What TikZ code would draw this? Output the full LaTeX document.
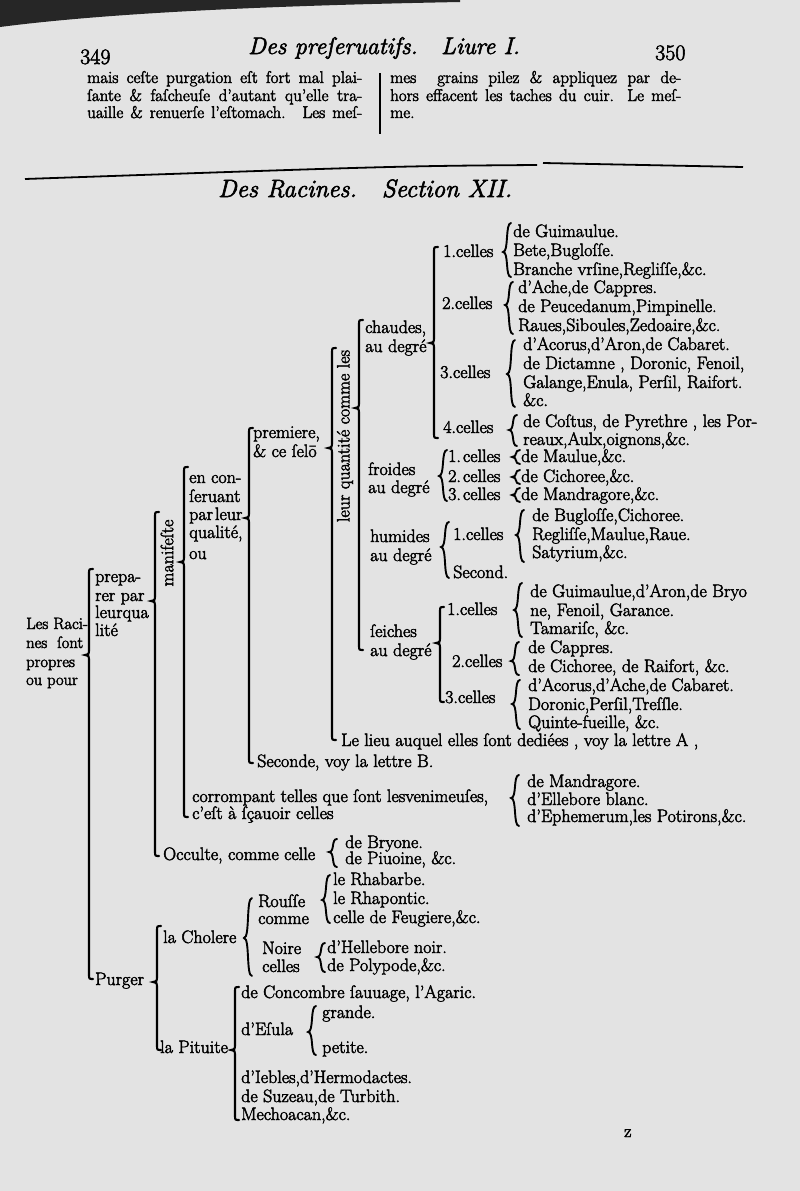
\documentclass[tikz,border=0pt]{standalone}
\usepackage{fontspec}
\setmainfont{Latin Modern Roman}[FakeBold=2.5]
\begin{document}
\begin{tikzpicture}[x=1pt,y=-1pt,
  t/.style={anchor=base west, inner sep=0pt, font=\fontsize{18}{20}\selectfont},
  ts/.style={anchor=base west, inner sep=0pt, font=\fontsize{16.5}{19}\selectfont},
  tc/.style={anchor=base west, inner sep=0pt, font=\fontsize{17}{19}\selectfont},
  hd/.style={anchor=base west, inner sep=0pt, font=\fontsize{22}{24}\selectfont},
  hdi/.style={anchor=base west, inner sep=0pt, font=\fontsize{24}{26}\selectfont\itshape},
  br/.style={line width=2.1pt, line cap=round},
  cb/.style={line width=1.9pt, line cap=round},
  rule/.style={line width=1.8pt}]
% straight bracket with hooked ends: x, top, tip, bottom
\newcommand\brc[4]{\draw[br] ({#1+4},{#2}) .. controls ({#1},{#2}) .. ({#1},{#2+5}) -- ({#1},{#3-4}) .. controls ({#1},{#3-1}) .. ({#1-4},{#3}) .. controls ({#1},{#3+1}) .. ({#1},{#3+4}) -- ({#1},{#4-5}) .. controls ({#1},{#4}) .. ({#1+4},{#4});}
% curly brace: x, top, tip, bottom
\newcommand\cbr[4]{\draw[cb] ({#1+4},{#2}) .. controls ({#1-2},{#2}) and ({#1+2},{#3}) .. ({#1-4},{#3}) .. controls ({#1+2},{#3}) and ({#1-2},{#4}) .. ({#1+4},{#4});}
% page
\fill[black!11] (0,0) rectangle (800,1191);
\useasboundingbox (0,0) rectangle (800,1191);
\fill[black!85] (0,0) -- (0,27) .. controls (100,14) and (250,6) .. (460,2) -- (460,0) -- cycle;
% header
\node[hd] (p349) at (80,64) {349};
\node[hdi] (title) at (248,54) {Des preſeruatifs.};
\node[hdi] (liure) at (441,54) {Liure I.};
\node[hd] (p350) at (655,60) {350};
\node[tc] (l1) at (87,83) {\makebox[275pt][s]{mais ceſte purgation eſt fort mal plai-}};
\node[tc] (l2) at (87,101) {\makebox[275pt][s]{ſante \& faſcheuſe d'autant qu'elle tra-}};
\node[tc] (l3) at (87,118) {\makebox[275pt][s]{uaille \& renuerſe l'eſtomach.\quad Les meſ-}};
\node[tc] (r1) at (390,83) {\makebox[291pt][s]{mes\ \ grains pilez \& appliquez par de-}};
\node[tc] (r2) at (390,101) {\makebox[291pt][s]{hors effacent les taches du cuir. Le meſ-}};
\node[tc] (r3) at (390,118) {me.};
\coordinate (dv1) at (380,73); \coordinate (dv2) at (380,134);
\draw[line width=1.1pt] (dv1) -- (dv2);
\coordinate (ra) at (25,179); \coordinate (rm) at (400,166); \coordinate (rb) at (537,165);
\coordinate (rc) at (543,163); \coordinate (rd) at (743,167);
\draw[rule] (ra) .. controls (rm) .. (rb); \draw[rule] (rc) -- (rd);
\node[hdi, font=\fontsize{25}{27}\selectfont\itshape] (sect) at (218,197) {Des Racines.\quad Section XII.};
% chaudes
\node[t] (c1) at (443,257) {1.celles};
\cbr{507}{223}{252}{277}
\node[t] (c1a) at (513,237) {de Guimaulue.};
\node[t] (c1b) at (513,256) {Bete,Bugloſſe.};
\node[t] (c1c) at (513,275) {Branche vrſine,Regliſſe,\&c.};
\node[t] (c2) at (442,309) {2.celles};
\cbr{509}{282}{305}{334}
\node[t] (c2a) at (518,293) {d'Ache,de Cappres.};
\node[t] (c2b) at (518,312) {de Peucedanum,Pimpinelle.};
\node[t] (c2c) at (518,331) {Raues,Siboules,Zedoaire,\&c.};
\node[t] (c3) at (440,378) {3.celles};
\cbr{511}{340}{374}{407}
\node[t] (c3a) at (523,350) {d'Acorus,d'Aron,de Cabaret.};
\node[t] (c3b) at (523,369) {de Dictamne , Doronic, Fenoil,};
\node[t] (c3c) at (523,388) {Galange,Enula, Perſil, Raifort.};
\node[t] (c3d) at (523,406) {\&c.};
\node[t] (c4) at (443,433) {4.celles};
\cbr{513}{415}{430}{446}
\node[t] (c4a) at (523,427) {de Coſtus, de Pyrethre , les Por-};
\node[t] (c4b) at (523,445) {reaux,Aulx,oignons,\&c.};
\node[t] (ch1) at (365,333) {chaudes,};
\node[t] (ch2) at (365,352) {au degré};
\brc{434}{247}{343}{438}
% froides
\node[t] (fr1) at (368,475) {froides};
\node[t] (fr2) at (368,493) {au degré};
\cbr{443}{450}{476}{501}
\node[t] (f1) at (448,462) {1.\kern2pt celles};
\node[t] (f2) at (448,482) {2.\kern2pt celles};
\node[t] (f3) at (448,500) {3.\kern2pt celles};
\cbr{516}{450}{457}{464}
\cbr{516}{470}{477}{484}
\cbr{516}{488}{495}{502}
\node[t] (f1a) at (521,462) {de Maulue,\&c.};
\node[t] (f2a) at (521,482) {de Cichoree,\&c.};
\node[t] (f3a) at (521,500) {de Mandragore,\&c.};
% humides
\node[t] (hu1) at (370,542) {humides};
\node[t] (hu2) at (370,561) {au degré};
\cbr{445}{522}{547}{578}
\node[t] (h1) at (453,540) {1.celles};
\node[t] (h2) at (453,578) {Second.};
\cbr{520}{510}{535}{562}
\node[t] (h1a) at (532,521) {de Bugloſſe,Cichoree.};
\node[t] (h1b) at (532,540) {Regliſſe,Maulue,Raue.};
\node[t] (h1c) at (532,558) {Satyrium,\&c.};
% seiches
\node[t] (se1) at (370,637) {ſeiches};
\node[t] (se2) at (370,656) {au degré};
\brc{440}{607}{643}{702}
\node[t] (s1) at (447,615) {1.celles};
\cbr{518}{583}{610}{637}
\node[t] (s1a) at (530,597) {de Guimaulue,d'Aron,de Bryo};
\node[t] (s1b) at (530,616) {ne, Fenoil, Garance.};
\node[t] (s1c) at (530,634) {Tamariſc, \&c.};
\node[t] (s2) at (452,667) {2.celles};
\cbr{515}{642}{661}{675}
\node[t] (s2a) at (528,653) {de Cappres.};
\node[t] (s2b) at (528,672) {de Cichoree, de Raifort, \&c.};
\node[t] (s3) at (445,703) {3.celles};
\cbr{516}{680}{704}{729}
\node[t] (s3a) at (528,691) {d'Acorus,d'Ache,de Cabaret.};
\node[t] (s3b) at (528,710) {Doronic,Perſil,Treſſle.};
\node[t] (s3c) at (528,728) {Quinte-fueille, \&c.};
% qualites
\brc{359}{320}{408}{650}
\node[t, anchor=center, rotate=90] (quant) at (345,436) {leur quantité comme les};
\brc{332}{348}{448}{740}
\node[t] (prem1) at (253,438) {premiere,};
\node[t] (prem2) at (253,457) {\& ce ſelō};
\node[t] (lieu) at (341,746) {Le lieu auquel elles ſont dediées , voy la lettre A ,};
\brc{249}{428}{518}{763}
\node[t] (ec1) at (189,483) {en con-};
\node[t] (ec2) at (189,502) {ſeruant};
\node[t] (ec3) at (189,520) {par\kern2pt leur};
\node[t] (ec4) at (189,538) {qualité,};
\node[t] (ec5) at (189,559) {ou};
\node[t] (sec) at (257,767) {Seconde, voy la lettre B.};
\brc{184}{467}{562}{817}
\node[t, anchor=center, rotate=90] (manif) at (167,553) {manifeſte};
\node[t] (cor1) at (192,802) {corrompant telles que ſont lesvenimeuſes,};
\node[t] (cor2) at (192,819) {c'eſt à ſçauoir celles};
\cbr{515}{775}{798}{826}
\node[t] (cora) at (527,787) {de Mandragore.};
\node[t] (corb) at (527,805) {d'Ellebore blanc.};
\node[t] (corc) at (527,822) {d'Ephemerum,les Potirons,\&c.};
\brc{155}{512}{601}{856}
\node[t] (pr1) at (95,582) {prepa-};
\node[t] (pr2) at (95,601) {rer par};
\node[t] (pr3) at (95,618) {leurqua};
\node[t] (pr4) at (95,636) {lité};
\node[t] (occ) at (163,860) {Occulte, comme celle};
\cbr{333}{839}{852}{867}
\node[t] (occa) at (345,848) {de Bryone.};
\node[t] (occb) at (345,864) {de Piuoine, \&c.};
% racines
\node[ts] (rac1) at (26,629) {Les Raci-};
\node[ts] (rac2) at (26,648) {nes\ \ ſont};
\node[ts] (rac3) at (26,667) {propres};
\node[ts] (rac4) at (26,685) {ou pour};
\brc{89}{569}{655}{979}
% purger
\node[t] (pur) at (95,985) {Purger};
\brc{157}{926}{982}{1050}
\node[t] (chol) at (163,943) {la Cholere};
\cbr{248}{898}{938}{976}
\node[t] (rou1) at (258,907) {Rouſſe};
\node[t] (rou2) at (258,924) {comme};
\cbr{326}{875}{900}{923}
\node[t] (roua) at (333,885) {le Rhabarbe.};
\node[t] (roub) at (333,904) {le Rhapontic.};
\node[t] (rouc) at (333,923) {celle de Feugiere,\&c.};
\node[t] (noi1) at (262,954) {Noire};
\node[t] (noi2) at (262,972) {celles};
\cbr{321}{943}{957}{972}
\node[t] (noia) at (327,953) {d'Hellebore noir.};
\node[t] (noib) at (327,971) {de Polypode,\&c.};
\node[t] (pit) at (160,1053) {la Pituite};
\brc{235}{987}{1050}{1120}
\node[t] (pa) at (241,998) {de Concombre ſauuage, l'Agaric.};
\node[t] (pb) at (241,1035) {d'Eſula};
\cbr{312}{1006}{1032}{1055}
\node[t] (pb1) at (322,1018) {grande.};
\node[t] (pb2) at (322,1053) {petite.};
\node[t] (pc) at (241,1083) {d'Iebles,d'Hermodactes.};
\node[t] (pd) at (241,1102) {de Suzeau,de Turbith.};
\node[t] (pe) at (241,1120) {Mechoacan,\&c.};
\node[t] (sig) at (624,1137) {z};
\end{tikzpicture}
\end{document}
